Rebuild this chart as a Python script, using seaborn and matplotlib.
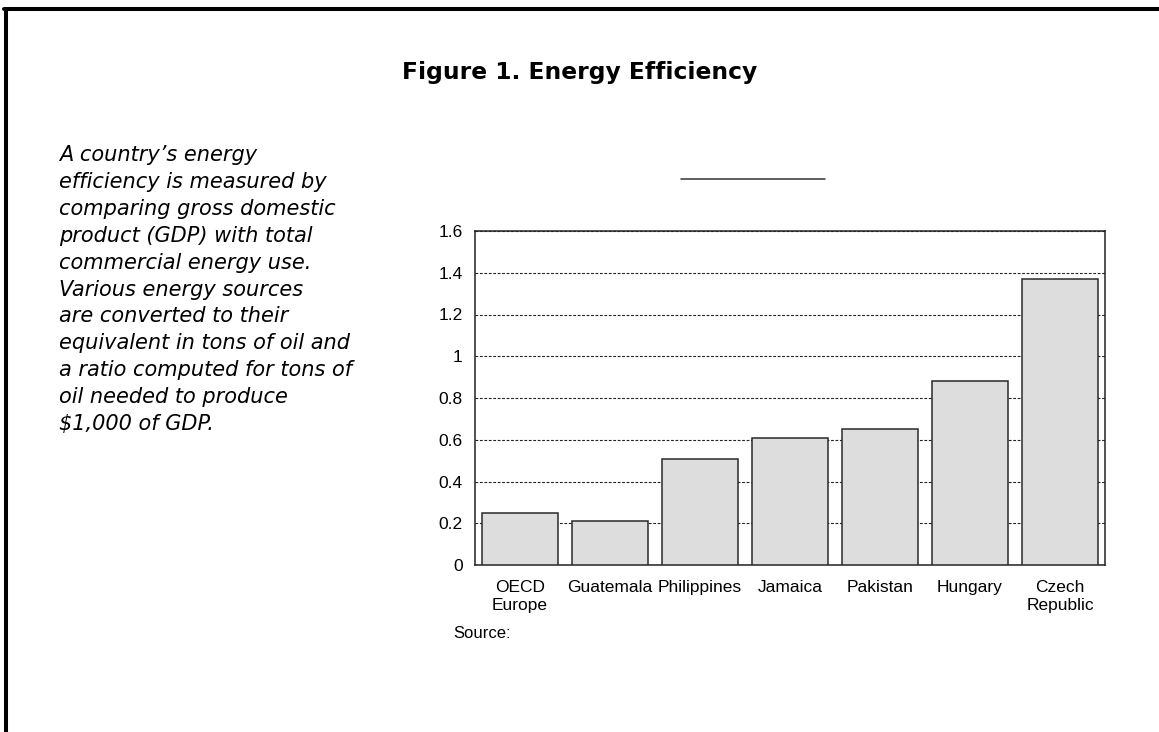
import matplotlib
matplotlib.use("Agg")
import matplotlib.pyplot as plt
from matplotlib.lines import Line2D
import seaborn as sns
import pandas as pd

# Tons of oil needed to produce $1,000 of GDP
countries = ["OECD\nEurope", "Guatemala", "Philippines", "Jamaica",
             "Pakistan", "Hungary", "Czech\nRepublic"]
oil_per_gdp = [0.25, 0.21, 0.51, 0.61, 0.65, 0.88, 1.37]
y_ticks = [0, 0.2, 0.4, 0.6, 0.8, 1.0, 1.2, 1.4, 1.6]
y_tick_labels = ["0", "0.2", "0.4", "0.6", "0.8", "1", "1.2", "1.4", "1.6"]

title = "Figure 1. Energy Efficiency"
blurb = [
    "A country\u2019s energy",
    "efficiency is measured by",
    "comparing gross domestic",
    "product (GDP) with total",
    "commercial energy use.",
    "Various energy sources",
    "are converted to their",
    "equivalent in tons of oil and",
    "a ratio computed for tons of",
    "oil needed to produce",
    "$1,000 of GDP.",
]
source_note = "Source:"

df = pd.DataFrame({"country": countries, "value": oil_per_gdp})

sns.set_theme(style="white")
plt.rcParams["font.family"] = ["Liberation Sans", "DejaVu Sans"]
plt.rcParams["text.color"] = "black"
plt.rcParams["xtick.color"] = "black"
plt.rcParams["ytick.color"] = "black"

W, H = 1159, 732
fig = plt.figure(figsize=(W / 100, H / 100), dpi=100)
fig.patch.set_facecolor("white")

def fx(px):
    return px / W

def fy(py):
    return 1 - py / H

ax = fig.add_axes([fx(475), fy(565), fx(1105) - fx(475), fy(231) - fy(565)])
sns.barplot(data=df, x="country", y="value", ax=ax, color="#dddddd",
            saturation=1, width=0.855, edgecolor="#2a2a2a", linewidth=1.1,
            zorder=3)

ax.set_xlim(-0.5, len(countries) - 0.5)
ax.set_ylim(0, 1.6)
ax.set_yticks(y_ticks)
ax.set_yticklabels(y_tick_labels)
ax.set_xlabel("")
ax.set_ylabel("")
ax.tick_params(axis="both", length=0, labelsize=12.5, colors="black",
               labelcolor="black")
ax.tick_params(axis="y", pad=9)
ax.tick_params(axis="x", pad=11)
ax.yaxis.grid(True, color="#222222", linestyle=(0, (2.5, 1.5)), linewidth=0.8,
              zorder=0)
ax.xaxis.grid(False)
ax.set_axisbelow(True)
for sp in ax.spines.values():
    sp.set_visible(True)
    sp.set_color("#222222")
    sp.set_linewidth(1.1)
ax.set_facecolor("white")

# Page frame: thick rule on the left and top edges
fig.add_artist(Line2D([fx(6), fx(6)], [fy(9), 0], color="black",
                      linewidth=2.9, transform=fig.transFigure))
fig.add_artist(Line2D([fx(4), 1], [fy(9), fy(9)], color="black",
                      linewidth=2.9, transform=fig.transFigure))

# Short rule above the chart
fig.add_artist(Line2D([fx(681), fx(825)], [fy(179), fy(179)], color="#333333",
                      linewidth=1.1, transform=fig.transFigure))

fig.text(fx(580), fy(72), title, ha="center", va="center", fontsize=16.8,
         fontweight="bold", family=["DejaVu Sans"], color="black")

for i, line in enumerate(blurb):
    fig.text(fx(59), fy(161 + i * 26.9), line, ha="left", va="baseline",
             fontsize=15, style="italic", family=["DejaVu Sans"],
             color="black")

fig.text(fx(453), fy(633), source_note, ha="left", va="center",
         fontsize=12, color="black")

fig.savefig("out.png", dpi=100, facecolor="white")
